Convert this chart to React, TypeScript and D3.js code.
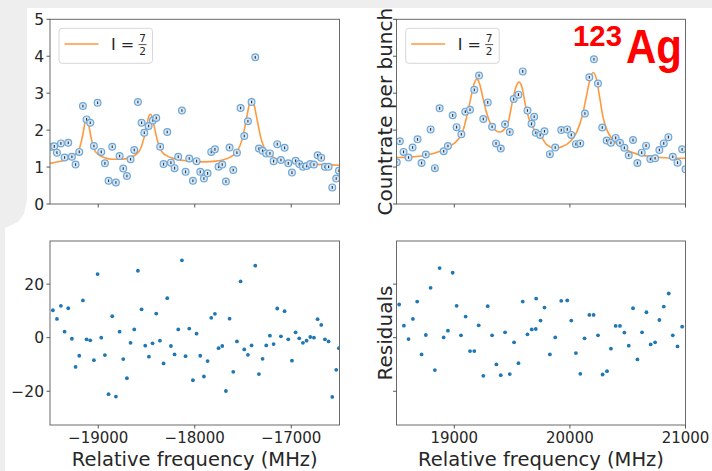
import React from 'react';
import * as d3 from 'd3';

// ---------- data ----------
const countTicks = [0, 1, 2, 3, 4, 5];
const residTicks = [-20, 0, 20];
const leftFreqTicks = [-19000, -18000, -17000];
const rightFreqTicks = [19000, 20000, 21000];

const leftFreq = [
  -19480, -19456, -19428, -19387, -19349, -19311, -19273, -19235, -19197, -19159,
  -19121, -19083, -19045, -19007, -18969, -18931, -18893, -18855, -18817, -18779,
  -18741, -18703, -18665, -18627, -18589, -18551, -18523, -18478, -18434, -18399,
  -18358, -18323, -18285, -18247, -18209, -18171, -18133, -18095, -18057, -18019,
  -17981, -17943, -17905, -17867, -17829, -17791, -17753, -17715, -17677, -17639,
  -17601, -17563, -17525, -17487, -17449, -17411, -17373, -17335, -17297, -17259,
  -17221, -17183, -17145, -17107, -17069, -17031, -16993, -16955, -16917, -16879,
  -16841, -16803, -16765, -16727, -16689, -16651, -16613, -16575, -16534, -16506,
];
const leftCounts = [
  1.55, 1.56, 1.39, 1.64, 1.26, 1.66, 1.28, 1.07, 1.41, 2.65,
  2.29, 2.2, 1.57, 2.74, 1.41, 1.1, 0.63, 1.55, 0.58, 1.3,
  0.96, 0.76, 1.21, 1.46, 2.76, 2.2, 1.93, 2.11, 2.26, 2.33,
  1.55, 1.08, 1.95, 1.12, 0.97, 1.28, 2.53, 0.87, 1.23, 0.63,
  1.16, 0.87, 0.69, 0.83, 1.41, 1.48, 1.01, 1.07, 0.61, 1.53,
  0.92, 1.39, 2.6, 1.84, 2.24, 2.76, 3.97, 1.5, 1.44, 1.37,
  1.37, 1.16, 1.62, 1.19, 1.52, 1.1, 0.85, 1.17, 1.08, 1.01,
  1.03, 1.08, 1.07, 1.32, 1.25, 1.01, 1.01, 0.45, 0.69, 0.9,
];
const leftResFreq = [
  -19470, -19428, -19387, -19349, -19311, -19273, -19235, -19197, -19159, -19121,
  -19083, -19045, -19007, -18969, -18931, -18893, -18855, -18817, -18779, -18741,
  -18703, -18665, -18627, -18589, -18551, -18513, -18475, -18437, -18399, -18361,
  -18323, -18285, -18247, -18209, -18171, -18133, -18095, -18057, -18019, -17981,
  -17943, -17905, -17867, -17829, -17791, -17753, -17715, -17677, -17639, -17601,
  -17563, -17525, -17487, -17449, -17411, -17373, -17335, -17297, -17259, -17221,
  -17183, -17145, -17107, -17069, -17031, -16993, -16955, -16917, -16879, -16841,
  -16803, -16765, -16727, -16689, -16651, -16613, -16575, -16534, -16506,
];
const leftResiduals = [
  10.25, 7, 11.9, 2.25, 11, -0.4, -10.9, -6.75, 13.9, -0.6,
  -1, -8.4, 23.75, 0, -6.5, -21.1, 8, -22, 2.25, -8,
  -15.1, -1.9, 3.1, 25, 10.6, -3, -7.1, -2.1, 9, -1.1,
  -9.6, 14.75, -3.1, -6.25, 3.1, 28.9, -6.9, 3.4, -15.9, 1.5,
  -6.75, -14.5, -8.75, 7.4, 8.9, -3.9, -3.1, -19.9, 7.1, -12.75,
  -1.4, 21, -4.4, -6.4, -2.9, 26.9, -13.6, -7.9, -2.9, 0.75,
  -2.4, 10.9, 0.5, 9.9, -0.6, -8.6, 2, -0.25, -1.9, -1.1,
  0.25, 0, 6.9, 4.75, -0.6, -1.4, -22.1, -12, -3.9,
];
const leftFitFreq = [
  -19500, -19400, -19300, -19240, -19200, -19170, -19150, -19135, -19120, -19105,
  -19090, -19070, -19040, -19000, -18940, -18850, -18750, -18680, -18620, -18570,
  -18530, -18500, -18480, -18460, -18440, -18420, -18390, -18350, -18300, -18200,
  -18050, -17900, -17780, -17700, -17632, -17563, -17511, -17467, -17432, -17410,
  -17388, -17353, -17309, -17257, -17188, -17100, -16950, -16800, -16500,
];
const leftFitCounts = [
  1.1, 1.15, 1.23, 1.34, 1.47, 1.75, 2.02, 2.24, 2.34, 2.24,
  2.02, 1.75, 1.47, 1.34, 1.26, 1.21, 1.21, 1.25, 1.32, 1.45,
  1.75, 2.1, 2.34, 2.43, 2.34, 2.1, 1.75, 1.45, 1.32, 1.22,
  1.16, 1.14, 1.16, 1.2, 1.27, 1.42, 1.73, 2.27, 2.72, 2.86,
  2.72, 2.27, 1.73, 1.42, 1.27, 1.18, 1.11, 1.08, 1.05,
];

const rightFreq = [
  18502, 18529, 18561, 18604, 18639, 18682, 18717, 18754, 18795, 18832,
  18873, 18908, 18945, 18986, 19020, 19061, 19095, 19136, 19173, 19214,
  19251, 19289, 19327, 19361, 19402, 19439, 19480, 19514, 19555, 19592,
  19633, 19668, 19691, 19705, 19743, 19780, 19827, 19873, 19925, 19977,
  20012, 20052, 20090, 20130, 20168, 20208, 20243, 20280, 20318, 20355,
  20396, 20433, 20471, 20509, 20546, 20584, 20621, 20659, 20696, 20737,
  20774, 20812, 20852, 20890, 20931, 20971, 21000,
];
const rightCounts = [
  1.13, 1.7, 1.41, 1.26, 1.53, 1.75, 1.11, 1.34, 2.02, 0.97,
  2.59, 1.43, 1.57, 2.4, 2.08, 1.89, 2.5, 2.55, 3.09, 3.48,
  2.3, 2.75, 2.09, 1.64, 1.5, 2.16, 1.95, 2.84, 2.96, 3.59,
  2.53, 2.17, 2.36, 1.93, 1.87, 1.97, 1.35, 1.53, 2.0, 2.02,
  1.87, 1.62, 1.64, 2.45, 3.43, 3.92, 3.26, 2.07, 1.72, 1.66,
  1.79, 1.66, 1.52, 1.32, 1.73, 1.11, 1.39, 1.58, 1.22, 1.24,
  1.46, 1.64, 1.81, 1.28, 1.12, 1.48, 0.94,
];
const rightResFreq = [
  18523, 18564, 18604, 18642, 18679, 18717, 18754, 18795, 18832, 18873,
  18908, 18945, 18986, 19020, 19058, 19098, 19136, 19173, 19211, 19251,
  19289, 19327, 19364, 19402, 19439, 19480, 19517, 19555, 19592, 19633,
  19670, 19705, 19708, 19746, 19780, 19827, 19873, 19925, 19977, 20012,
  20052, 20090, 20127, 20168, 20205, 20243, 20283, 20321, 20355, 20396,
  20433, 20471, 20509, 20546, 20584, 20624, 20662, 20699, 20737, 20774,
  20812, 20855, 20890, 20931, 20971,
];
const rightResiduals = [
  12.4, 4.5, -0.5, 7, 13.5, -6.25, 1, 18.6, -12.1, 26,
  0.1, 2.6, 24.25, 11.9, 0.9, 7.9, -5, -5, 4.6, -14.25,
  11.75, 0.9, -10, -14, 2, -13.6, -1.75, -9.5, 13.5, 1.25,
  3.1, 3.25, 14.6, 6.4, 11.25, -6.25, 0.1, 13.75, 13.9, 6.4,
  -5.75, -13.5, -0.25, 8.5, 8.5, 0.9, -13.75, -12.5, -4.1, 4.4,
  4.4, 1.9, -3, 11, -8.1, 2, 9.5, -2.5, -1.75, 6.6,
  11.6, 16.5, 0.9, -3.25, 4.1,
];
const rightFitFreq = [
  18500, 18610, 18755, 18870, 18957, 19029, 19073, 19107, 19145, 19173,
  19194, 19217, 19246, 19281, 19318, 19361, 19396, 19433, 19468, 19500,
  19535, 19558, 19584, 19615, 19650, 19694, 19752, 19801, 19873, 19931,
  20003, 20061, 20105, 20142, 20176, 20203, 20228, 20257, 20286, 20321,
  20378, 20465, 20581, 20725, 20899, 21000,
];
const rightFitCounts = [
  1.26, 1.27, 1.32, 1.42, 1.55, 1.73, 1.96, 2.36, 2.9, 3.27,
  3.38, 3.27, 2.9, 2.45, 2.14, 1.98, 1.95, 2.02, 2.23, 2.73,
  3.18, 3.3, 3.18, 2.68, 2.27, 2.0, 1.82, 1.6, 1.51, 1.55,
  1.69, 1.96, 2.36, 2.9, 3.4, 3.56, 3.4, 2.9, 2.36, 2.0,
  1.71, 1.51, 1.35, 1.28, 1.24, 1.24,
];

const legendText = 'I =';
const legendNum = '7';
const legendDen = '2';
const isotopeMass = '123';
const isotopeSymbol = 'Ag';
const topYLabel = 'Countrate per bunch';
const bottomYLabel = 'Residuals';
const xLabel = 'Relative frequency (MHz)';

// ---------- layout ----------
const W = 712;
const H = 471;
const LX = [50, 339.5];
const RX = [396.5, 685.5];
const TY = [19.3, 204];
const BY = [241, 425];
const FONT = 'DejaVu Sans, Verdana, sans-serif';
const BLUE = '#1f77b4';
const ORANGE = '#ff7f0e';

const fmt = (v: number) => (v < 0 ? '\u2212' + Math.abs(v) : String(v));

type PanelProps = {
  id: string;
  xr: number[];
  yr: number[];
  xDomain: [number, number];
  yDomain: [number, number];
  xTicks: number[];
  yTicks: number[];
  xLabels: boolean;
  yLabels: boolean;
  children: (x: d3.ScaleLinear<number, number>, y: d3.ScaleLinear<number, number>) => React.ReactNode;
};

function Panel({ id, xr, yr, xDomain, yDomain, xTicks, yTicks, xLabels, yLabels, children }: PanelProps) {
  const x = d3.scaleLinear().domain(xDomain).range([xr[0], xr[1]]);
  const y = d3.scaleLinear().domain(yDomain).range([yr[1], yr[0]]);
  return (
    <g>
      <defs>
        <clipPath id={id}>
          <rect x={xr[0]} y={yr[0]} width={xr[1] - xr[0]} height={yr[1] - yr[0]} />
        </clipPath>
      </defs>
      <rect x={xr[0]} y={yr[0]} width={xr[1] - xr[0]} height={yr[1] - yr[0]} fill="#fff" />
      <g clipPath={`url(#${id})`}>{children(x, y)}</g>
      <rect x={xr[0]} y={yr[0]} width={xr[1] - xr[0]} height={yr[1] - yr[0]} fill="none" stroke="#6a6a6a" strokeWidth={1} />
      {xTicks.map((t) => (
        <g key={'x' + t}>
          <line x1={x(t)} x2={x(t)} y1={yr[1]} y2={yr[1] + 3.5} stroke="#444" strokeWidth={0.9} />
          {xLabels && (
            <text x={x(t)} y={yr[1] + 18} textAnchor="middle" fontSize={15} fill="#262626" fontFamily={FONT}>
              {fmt(t)}
            </text>
          )}
        </g>
      ))}
      {yTicks.map((t) => (
        <g key={'y' + t}>
          <line x1={xr[0] - 3.5} x2={xr[0]} y1={y(t)} y2={y(t)} stroke="#444" strokeWidth={0.9} />
          {yLabels && (
            <text x={xr[0] - 6} y={y(t)} dy="0.36em" textAnchor="end" fontSize={15.5} fill="#262626" fontFamily={FONT}>
              {fmt(t)}
            </text>
          )}
        </g>
      ))}
    </g>
  );
}

function DataMarkers({ xs, ys, x, y }: { xs: number[]; ys: number[]; x: any; y: any }) {
  return (
    <g>
      {xs.map((f, i) => (
        <g key={i}>
          <circle cx={x(f)} cy={y(ys[i])} r={3.4} fill="#d6e6f4" stroke="#6fa8d8" strokeWidth={1.2} />
          <line x1={x(f)} x2={x(f)} y1={y(ys[i]) - 1.3} y2={y(ys[i]) + 1.3} stroke="#333" strokeWidth={1.1} />
        </g>
      ))}
    </g>
  );
}

function FitLine({ xs, ys, x, y }: { xs: number[]; ys: number[]; x: any; y: any }) {
  const line = d3
    .line<number>()
    .x((f) => x(f))
    .y((_, i) => y(ys[i]))
    .curve(d3.curveMonotoneX);
  return <path d={line(xs) || ''} fill="none" stroke={ORANGE} strokeOpacity={0.8} strokeWidth={1.6} />;
}

function ResDots({ xs, ys, x, y }: { xs: number[]; ys: number[]; x: any; y: any }) {
  return (
    <g>
      {xs.map((f, i) => (
        <circle key={i} cx={x(f)} cy={y(ys[i])} r={1.9} fill={BLUE} />
      ))}
    </g>
  );
}

function Legend({ x0, y0 }: { x0: number; y0: number }) {
  return (
    <g>
      <rect x={x0} y={y0} width={93.5} height={35} rx={3} fill="#fff" fillOpacity={0.85} stroke="#d8d8d8" strokeWidth={1} />
      <line x1={x0 + 5.5} x2={x0 + 39.5} y1={y0 + 15.7} y2={y0 + 15.7} stroke={ORANGE} strokeOpacity={0.8} strokeWidth={1.6} />
      <text x={x0 + 52} y={y0 + 21.7} fontSize={16} fill="#262626" fontFamily={FONT}>
        {legendText}
      </text>
      <text x={x0 + 83.5} y={y0 + 13.5} textAnchor="middle" fontSize={10.5} fill="#262626" fontFamily={FONT}>
        {legendNum}
      </text>
      <line x1={x0 + 79.5} x2={x0 + 87.5} y1={y0 + 16.3} y2={y0 + 16.3} stroke="#262626" strokeWidth={0.8} />
      <text x={x0 + 83.5} y={y0 + 26.7} textAnchor="middle" fontSize={10.5} fill="#262626" fontFamily={FONT}>
        {legendDen}
      </text>
    </g>
  );
}

export default function App() {
  return (
    <svg
      width={W}
      height={H}
      viewBox={`0 0 ${W} ${H}`}
      style={{ position: 'absolute', left: 0, top: 0, display: 'block' }}
    >
      <rect x={0} y={0} width={W} height={H} fill="#eeeeee" />
      <path d="M27,8 H712 V471 H5 V228 L18,222 L24,214 L27,200 Z" fill="#ffffff" />

      <Panel id="c1" xr={LX} yr={TY} xDomain={[-19500, -16500]} yDomain={[0, 5]} xTicks={leftFreqTicks} yTicks={countTicks} xLabels={false} yLabels={true}>
        {(x, y) => (
          <g>
            <FitLine xs={leftFitFreq} ys={leftFitCounts} x={x} y={y} />
            <DataMarkers xs={leftFreq} ys={leftCounts} x={x} y={y} />
          </g>
        )}
      </Panel>
      <Panel id="c2" xr={RX} yr={TY} xDomain={[18500, 21000]} yDomain={[0, 5]} xTicks={rightFreqTicks} yTicks={countTicks} xLabels={false} yLabels={false}>
        {(x, y) => (
          <g>
            <FitLine xs={rightFitFreq} ys={rightFitCounts} x={x} y={y} />
            <DataMarkers xs={rightFreq} ys={rightCounts} x={x} y={y} />
          </g>
        )}
      </Panel>
      <Panel id="c3" xr={LX} yr={BY} xDomain={[-19500, -16500]} yDomain={[-32.6, 36.1]} xTicks={leftFreqTicks} yTicks={residTicks} xLabels={true} yLabels={true}>
        {(x, y) => <ResDots xs={leftResFreq} ys={leftResiduals} x={x} y={y} />}
      </Panel>
      <Panel id="c4" xr={RX} yr={BY} xDomain={[18500, 21000]} yDomain={[-32.6, 36.1]} xTicks={rightFreqTicks} yTicks={residTicks} xLabels={true} yLabels={false}>
        {(x, y) => <ResDots xs={rightResFreq} ys={rightResiduals} x={x} y={y} />}
      </Panel>

      <Legend x0={59} y0={28.3} />
      <Legend x0={405.7} y0={28.3} />

      <text transform={`translate(392, ${(TY[0] + TY[1]) / 2}) rotate(-90)`} textAnchor="middle" fontSize={20} fill="#262626" fontFamily={FONT}>
        {topYLabel}
      </text>
      <text transform={`translate(392, ${(BY[0] + BY[1]) / 2}) rotate(-90)`} textAnchor="middle" fontSize={20} fill="#262626" fontFamily={FONT}>
        {bottomYLabel}
      </text>
      <text x={(LX[0] + LX[1]) / 2} y={466} textAnchor="middle" fontSize={19.5} fill="#262626" fontFamily={FONT}>
        {xLabel}
      </text>
      <text x={(RX[0] + RX[1]) / 2} y={466} textAnchor="middle" fontSize={19.5} fill="#262626" fontFamily={FONT}>
        {xLabel}
      </text>

      <text x={573} y={46} fontSize={30} fontWeight="bold" fill="#ff0000" fontFamily="Liberation Sans, Arial, sans-serif" textLength={49} lengthAdjust="spacingAndGlyphs">
        {isotopeMass}
      </text>
      <text x={626} y={63} fontSize={48} fontWeight="bold" fill="#ff0000" fontFamily="Liberation Sans, Arial, sans-serif" textLength={56} lengthAdjust="spacingAndGlyphs">
        {isotopeSymbol}
      </text>
    </svg>
  );
}
